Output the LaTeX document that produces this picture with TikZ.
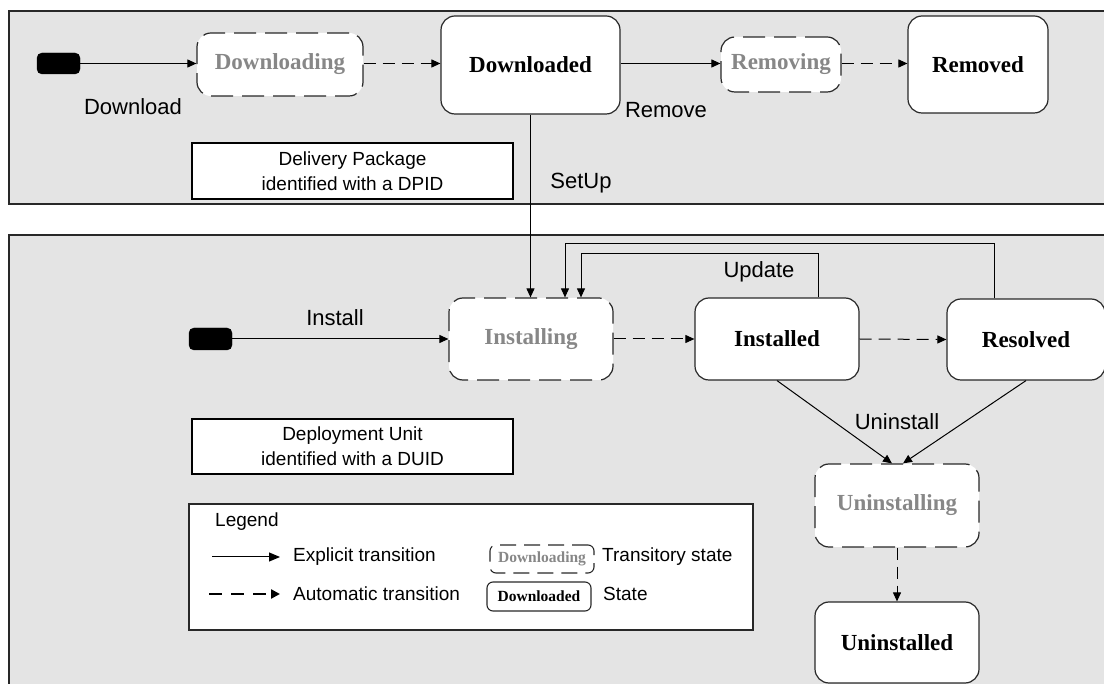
\documentclass[tikz,border=0pt]{standalone}
\usepackage{fontspec}
\setmainfont{Liberation Serif}
\setsansfont{Liberation Sans}
\usetikzlibrary{arrows.meta}
\definecolor{panelgray}{RGB}{228,228,228}
\definecolor{linegray}{RGB}{40,40,40}
\definecolor{transgray}{RGB}{135,135,135}
\begin{document}
\begin{tikzpicture}[x=1pt,y=-1pt,
  panel/.style={draw=linegray,line width=1.2pt,fill=panelgray},
  stbox/.style={draw=linegray,line width=1.2pt,fill=white,rounded corners=14pt,inner sep=0pt,font=\fontsize{23}{27}\selectfont\bfseries},
  transit/.style={stbox,dash pattern=on 22pt off 9pt,text=transgray},
  startst/.style={fill=black,draw=black,rounded corners=5pt,inner sep=0pt,minimum width=43pt,minimum height=21pt},
  infobox/.style={draw=black,line width=2.2pt,fill=white,inner sep=0pt,align=center,minimum width=321pt,font=\sffamily\fontsize{19}{25}\selectfont},
  lbl/.style={font=\sffamily\fontsize{22}{26}\selectfont,inner sep=0pt},
  lgtext/.style={font=\sffamily\fontsize{19}{23}\selectfont,inner sep=0pt,anchor=west},
  exptrans/.style={draw=black,line width=1pt,-{Triangle[length=9pt,width=8pt]}},
  autotrans/.style={exptrans,dash pattern=on 12pt off 7pt},
]
\useasboundingbox (0,0) rectangle (1104,684);
\clip (0,0) rectangle (1104,684);
\fill[white] (0,0) rectangle (1104,684);
% panels
\draw[panel] (9,11) rectangle (1112,204);
\draw[panel] (9,235) rectangle (1112,700);

% top states
\node[startst] (start1) at (58.5,63.5) {};
\node[transit,minimum width=166pt,minimum height=63pt] (downloading) at (280,64.5) {Downloading};
\node[stbox,minimum width=179pt,minimum height=98pt] (downloaded) at (530.5,65) {Downloaded};
\node[transit,minimum width=120pt,minimum height=55pt] (removing) at (781,64.5) {Removing};
\node[stbox,minimum width=140pt,minimum height=97pt] (removed) at (978,64.5) {Removed};
\node[infobox,minimum height=56pt] (delivery) at (352.5,171) {Delivery Package\\identified with a DPID};

% bottom states
\node[startst,minimum height=22pt] (start2) at (210.5,339) {};
\node[transit,minimum width=164pt,minimum height=82pt] (installing) at (531,339) {Installing};
\node[stbox,minimum width=164pt,minimum height=82pt] (installed) at (777,339) {Installed};
\node[stbox,minimum width=158pt,minimum height=81pt] (resolved) at (1026,339.5) {Resolved};
\node[transit,minimum width=164pt,minimum height=83pt] (uninstalling) at (897,505.5) {Uninstalling};
\node[stbox,minimum width=164pt,minimum height=81pt] (uninstalled) at (897,642.5) {Uninstalled};
\node[infobox,minimum height=55pt] (deployment) at (352.5,446.5) {Deployment Unit\\identified with a DUID};

% transitions top
\draw[exptrans] (start1.east) -- (start1.east -| downloading.west);
\draw[autotrans] (downloading.east |- start1.east) -- (start1.east -| downloaded.west);
\draw[exptrans] (downloaded.east |- start1.east) -- (start1.east -| removing.west);
\draw[autotrans] (removing.east |- start1.east) -- (start1.east -| removed.west);
\draw[exptrans] (downloaded.south) -- (downloaded.south |- installing.north);

% transitions bottom
\draw[exptrans] (start2.east) -- (installing.west);
\draw[autotrans] (installing.east) -- (installed.west);
\draw[autotrans] (installed.east) -- (resolved.west);
\coordinate (u1) at (818,254);
\coordinate (u2) at (581,254);
\coordinate (o1) at (994,244);
\coordinate (o2) at (565,244);
\draw[exptrans] (installed.north -| u1) -- (u1) -- (u2) -- (u2 |- installing.north);
\draw[exptrans] (resolved.north -| o1) -- (o1) -- (o2) -- (o2 |- installing.north);
\draw[exptrans] (installed.south) -- ([xshift=-5pt]uninstalling.north);
\draw[exptrans] (resolved.south) -- ([xshift=6pt]uninstalling.north);
\draw[autotrans] (uninstalling.south) -- (uninstalled.north);

% labels
\node[lbl] (lbDownload) at (133,107) {Download};
\node[lbl] (lbRemove) at (666,110) {Remove};
\node[lbl] (lbSetUp) at (581,183) {SetUp};
\node[lbl] (lbInstall) at (335,318) {Install};
\node[lbl] (lbUpdate) at (759,272) {Update};
\node[lbl] (lbUninstall) at (897,422) {Uninstall};

% legend
\node[draw=linegray,line width=1.5pt,fill=white,minimum width=564pt,minimum height=126pt,inner sep=0pt] (legend) at (471,567) {};
\node[lgtext] (legtitle) at (215,522) {Legend};
\coordinate (le1) at (212,557);
\coordinate (le2) at (280,557);
\coordinate (la1) at (209,594);
\coordinate (la2) at (280,594);
\draw[line width=1pt,-{Triangle[length=11pt,width=9pt]}] (le1) -- (le2);
\draw[line width=2.5pt,dash pattern=on 13pt off 9pt,-{Triangle[length=9pt,width=9pt]}] (la1) -- (la2);
\node[lgtext] (legexp) at (293,557) {Explicit transition};
\node[lgtext] (legaut) at (293,594) {Automatic transition};
\node[draw=linegray,line width=1.1pt,fill=white,rounded corners=6pt,dash pattern=on 16pt off 8pt,minimum width=104pt,minimum height=28pt,inner sep=0pt,text=transgray,font=\fontsize{15.5}{17}\selectfont\bfseries] (legtr) at (542,559) {Downloading};
\node[draw=linegray,line width=1.1pt,fill=white,rounded corners=6pt,minimum width=104pt,minimum height=29pt,inner sep=0pt,font=\fontsize{15.5}{17}\selectfont\bfseries] (legst) at (539,596.5) {Downloaded};
\node[lgtext] (legtrt) at (602,557) {Transitory state};
\node[lgtext] (legstt) at (603,594) {State};
\end{tikzpicture}
\end{document}
